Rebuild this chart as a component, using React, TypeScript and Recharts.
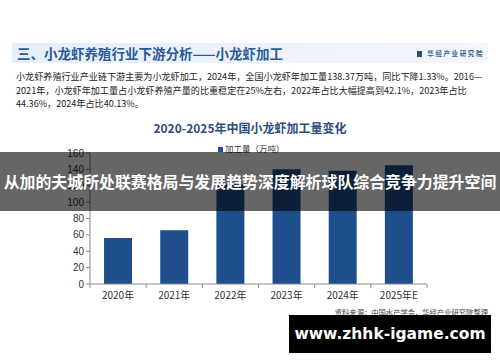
import { Bar, BarChart, XAxis, YAxis } from 'recharts'

const years = ['2020年', '2021年', '2022年', '2023年', '2024年', '2025年E']
const output = [56.2, 65.8, 121.7, 140.2, 138.4, 145.0]
const yTicks = [0, 20, 40, 60, 80, 100, 120, 140, 160]

const seriesName = '加工量（万吨）'
const chartTitle = '2020-2025年中国小龙虾加工量变化'
const sectionTitle = '三、小龙虾养殖行业下游分析——小龙虾加工'
const brand = '华经产业研究院'
const paragraph = [
  '小龙虾养殖行业产业链下游主要为小龙虾加工，2024年，全国小龙虾年加工量138.37万吨，同比下降1.33%。2016—',
  '2021年，小龙虾年加工量占小龙虾养殖产量的比重稳定在25%左右，2022年占比大幅提高到42.1%，2023年占比',
  '44.36%，2024年占比40.13%。',
]
const sourceNote = '资料来源：中国水产学会，华经产业研究院整理'
const bannerText = '从加的夫城所处联赛格局与发展趋势深度解析球队综合竞争力提升空间'
const siteText = 'www.zhhk-igame.com'

const data = years.map((year, i) => ({ year, value: output[i] }))

const W = 500
const H = 362
const plotLeft = 90
const plotRight = 427
const band = (plotRight - plotLeft) / years.length
const cjk = '"Noto Sans CJK SC", "Noto Sans", sans-serif'

function YearTick(props: any) {
  const { x, y, payload, index } = props
  const lineY = y - 8
  return (
    <g>
      <line x1={x - band / 2} x2={x - band / 2} y1={lineY} y2={lineY + 4} stroke="#888" />
      {index === years.length - 1 && (
        <line x1={x + band / 2} x2={x + band / 2} y1={lineY} y2={lineY + 4} stroke="#888" />
      )}
      <text x={x} y={y + 4} textAnchor="middle" dominantBaseline="middle" fontSize={10} fill="#333" fontFamily={cjk}>
        {payload.value}
      </text>
    </g>
  )
}

export default function App() {
  return (
    <div style={{ position: 'absolute', left: 0, top: 0, width: W, height: H, background: '#fff', overflow: 'hidden', fontFamily: cjk }}>
      {/* header band */}
      <div
        style={{
          position: 'absolute', left: 12, top: 43, width: 476, height: 20,
          background: 'linear-gradient(90deg, #e6eef9 0%, #eef3fb 60%, #f3f6fb 100%)',
        }}
      />
      <div style={{ position: 'absolute', left: 17, top: 43, height: 20, lineHeight: '20px', fontSize: 13.5, fontWeight: 700, color: '#2a5a98', whiteSpace: 'nowrap' }}>
        {sectionTitle}
      </div>
      <div style={{ position: 'absolute', right: 16, top: 45, height: 16, lineHeight: '16px', fontSize: 6.5, fontWeight: 700, color: '#3d5f8f', letterSpacing: 1.6, whiteSpace: 'nowrap' }}>
        <span style={{ display: 'inline-block', width: 5, height: 6, background: '#2a4d80', marginRight: 5, verticalAlign: 'middle' }} />
        {brand}
      </div>
      {paragraph.map((line, i) => (
        <div key={i} style={{ position: 'absolute', left: 16, top: 70 + i * 13.5, lineHeight: '13px', fontSize: 9.1, color: '#222', whiteSpace: 'nowrap' }}>
          {line}
        </div>
      ))}
      <div style={{ position: 'absolute', left: 0, width: W, top: 120, textAlign: 'center', fontSize: 12, fontWeight: 700, color: '#2b4e7e', lineHeight: '16px' }}>
        {chartTitle}
      </div>
      <div style={{ position: 'absolute', left: 218, top: 142, fontSize: 8.5, color: '#333', lineHeight: '12px', whiteSpace: 'nowrap' }}>
        <span style={{ display: 'inline-block', width: 5, height: 5, background: '#1f4e8c', marginRight: 2, verticalAlign: 'middle' }} />
        {seriesName}
      </div>

      <div style={{ position: 'absolute', left: 0, top: 0 }}>
        <BarChart
          width={W}
          height={H}
          data={data}
          margin={{ top: 153, right: W - plotRight, bottom: 58, left: plotLeft - 40 }}
          barCategoryGap="25%"
        >
          <XAxis
            dataKey="year"
            height={20}
            axisLine={{ stroke: '#888' }}
            tickLine={false}
            tick={<YearTick />}
            interval={0}
          />
          <YAxis
            width={40}
            domain={[0, 160]}
            ticks={yTicks}
            interval={0}
            axisLine={{ stroke: '#888' }}
            tickLine={{ stroke: '#888' }}
            tickSize={4}
            tick={{ fontSize: 10, fill: '#333', fontFamily: 'Liberation Sans, Arial, sans-serif' }}
          />
          <Bar dataKey="value" fill="#1f4e8c" isAnimationActive={false} />
        </BarChart>
      </div>

      <div style={{ position: 'absolute', right: 12, top: 306, fontSize: 7.3, color: '#444', textDecoration: 'underline', whiteSpace: 'nowrap', lineHeight: '12px' }}>
        {sourceNote}
      </div>

      {/* overlay banner */}
      <div
        style={{
          position: 'absolute', left: 0, top: 152, width: W, height: 59,
          background: 'rgba(0,0,0,0.6)', color: '#fff', fontSize: 15.9, fontWeight: 700,
          lineHeight: '59px', textAlign: 'center', whiteSpace: 'nowrap',
        }}
      >
        {bannerText}
      </div>

      <div
        style={{
          position: 'absolute', left: 289, top: 315, width: 202, height: 38,
          background: '#000', color: '#fff', fontSize: 15.5, fontWeight: 700,
          lineHeight: '38px', textAlign: 'center', fontFamily: '"DejaVu Sans", sans-serif',
          whiteSpace: 'nowrap',
        }}
      >
        {siteText}
      </div>
    </div>
  )
}
